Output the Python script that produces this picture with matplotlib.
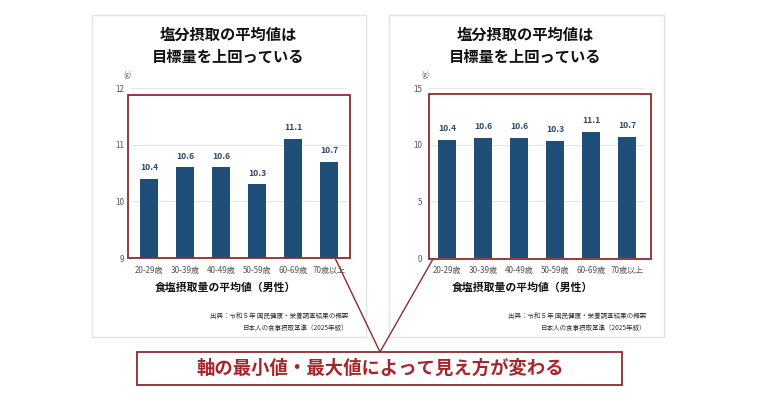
import matplotlib
matplotlib.use("Agg")
import matplotlib.pyplot as plt
import matplotlib.patches as mpatches
from matplotlib.lines import Line2D

plt.rcParams["font.family"] = ["Noto Sans CJK JP", "DejaVu Sans"]

W, H = 760, 398

age_groups = ["20-29歳", "30-39歳", "40-49歳", "50-59歳", "60-69歳", "70歳以上"]
salt_intake = [10.4, 10.6, 10.6, 10.3, 11.1, 10.7]

left_ticks = [9, 10, 11, 12]
right_ticks = [0, 5, 10, 15]

title_text = "塩分摂取の平均値は\n目標量を上回っている"
xlabel_text = "食塩摂取量の平均値（男性）"
source_text = "出典：令和５年 国民健康・栄養調査結果の概要\n日本人の食事摂取基準（2025年版）"
callout_text = "軸の最小値・最大値によって見え方が変わる"

COLORS = {
    "bar": "#1F4E79",
    "label": "#2E4A6B",
    "red": "#8E2B2E",
    "callout": "#A8262B",
    "tick": "#555555",
    "grid": "#E6E6E6",
    "panel": "#E2E2E2",
}


def px_rect(x0, y0, x1, y1):
    # pixel box (top-left origin) -> figure fraction [l, b, w, h]
    return [x0 / W, 1 - y1 / H, (x1 - x0) / W, (y1 - y0) / H]


def fx(x):
    return x / W


def fy(y):
    return 1 - y / H


fig = plt.figure(figsize=(W / 100, H / 100), dpi=100, facecolor="white")


def draw_panel(px0, px1, ax_x0, ax_x1, ylim, ticks, box):
    # panel frame
    fig.add_artist(mpatches.Rectangle(
        (fx(px0), fy(337)), fx(px1 - px0), 322 / H,
        transform=fig.transFigure, fill=False,
        edgecolor=COLORS["panel"], linewidth=1.0))

    cx = (px0 + px1) / 2
    fig.text(fx(cx - 1), fy(46), title_text, ha="center", va="center",
             fontsize=11, fontweight="bold", color="#111111", linespacing=1.45)

    ax = fig.add_axes(px_rect(ax_x0, 88, ax_x1, 258))
    ax.bar(range(len(age_groups)), salt_intake, width=0.5,
           color=COLORS["bar"], zorder=3)
    ax.set_xlim(-0.5, len(age_groups) - 0.5)
    ax.set_ylim(*ylim)
    ax.set_yticks(ticks)
    ax.set_xticks(range(len(age_groups)))
    ax.set_xticklabels(age_groups)
    ax.tick_params(axis="both", length=0, labelsize=5.8, colors=COLORS["tick"])
    ax.tick_params(axis="x", pad=6)
    ax.tick_params(axis="y", pad=5)
    ax.grid(axis="y", color=COLORS["grid"], linewidth=0.8, zorder=0)
    for spine in ax.spines.values():
        spine.set_visible(False)

    offset = (ylim[1] - ylim[0]) * 0.04
    for i, v in enumerate(salt_intake):
        ax.text(i, v + offset, f"{v:.1f}", ha="center", va="bottom",
                fontsize=6.2, fontweight="bold", color=COLORS["label"])

    fig.text(fx(ax_x0 - 8), fy(75), "(g)", ha="left", va="center",
             fontsize=4.5, color=COLORS["tick"])

    fig.text(fx(cx - 4), fy(288), xlabel_text, ha="center", va="center",
             fontsize=7.8, fontweight="bold", color="#111111")
    fig.text(fx(px1 - 18), fy(322), source_text, ha="right", va="center",
             fontsize=4.7, color="#333333", linespacing=1.6)

    bx0, by0, bx1, by1 = box
    fig.add_artist(mpatches.Rectangle(
        (fx(bx0), fy(by1)), fx(bx1 - bx0), (by1 - by0) / H,
        transform=fig.transFigure, fill=False,
        edgecolor=COLORS["red"], linewidth=1.3, zorder=5))
    return ax


draw_panel(92, 366, 131, 347, (9, 12), left_ticks, (128, 95, 350, 258))
draw_panel(389, 664, 429, 645, (0, 15), right_ticks, (429, 94, 651, 259))

# callout lines and box
apex = (380, 352)
for start in [(335, 258), (433, 259)]:
    fig.add_artist(Line2D([fx(start[0]), fx(apex[0])], [fy(start[1]), fy(apex[1])],
                          transform=fig.transFigure, color=COLORS["red"], linewidth=1.0))

fig.add_artist(mpatches.Rectangle(
    (fx(137), fy(385)), fx(622 - 137), 33 / H,
    transform=fig.transFigure, facecolor="white",
    edgecolor=COLORS["red"], linewidth=1.3, zorder=6))
fig.text(fx(380), fy(368.5), callout_text, ha="center", va="center",
         fontsize=13.2, fontweight="bold", color=COLORS["callout"], zorder=7)

fig.savefig("out.png", dpi=100, facecolor="white")
